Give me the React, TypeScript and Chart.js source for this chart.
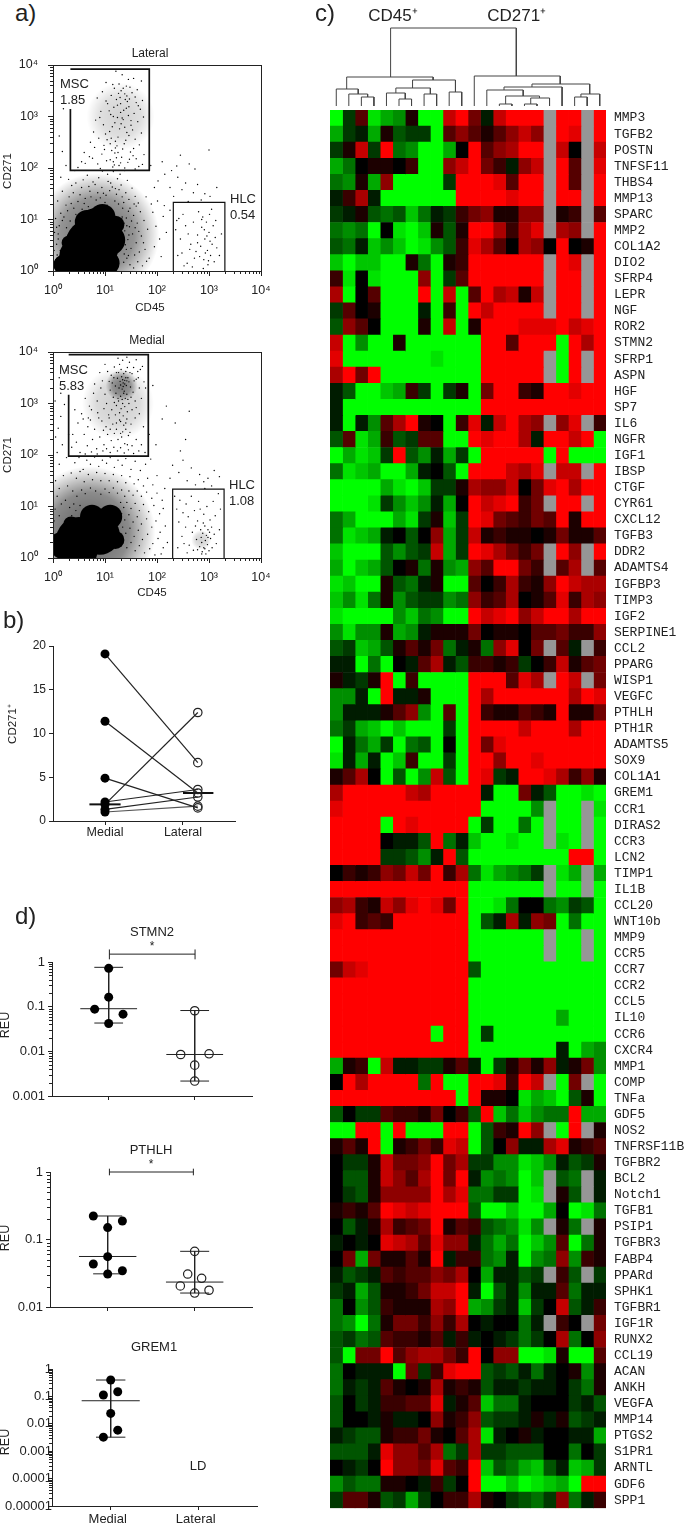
import React, { useEffect, useRef } from 'react';
import { Chart, registerables } from 'chart.js';
Chart.register(...registerables);

const INK = '#222222';
const SANS = '"Liberation Sans", Arial, sans-serif';
Chart.defaults.font.family = SANS;
Chart.defaults.color = INK;

/* ---------- c) heat map ---------- */
const N = null;
const genes = ['MMP3','TGFB2','POSTN','TNFSF11','THBS4','MMP13','SPARC','MMP2','COL1A2','DIO2','SFRP4','LEPR','NGF','ROR2','STMN2','SFRP1','ASPN','HGF','SP7','IL6','NGFR','IGF1','IBSP','CTGF','CYR61','CXCL12','TGFB3','DDR2','ADAMTS4','IGFBP3','TIMP3','IGF2','SERPINE1','CCL2','PPARG','WISP1','VEGFC','PTHLH','PTH1R','ADAMTS5','SOX9','COL1A1','GREM1','CCR1','DIRAS2','CCR3','LCN2','TIMP1','IL1B','CCL20','WNT10b','MMP9','CCR5','CCR7','CCR2','CCL5','IL10','CCR6','CXCR4','MMP1','COMP','TNFa','GDF5','NOS2','TNFRSF11B','TGFBR2','BCL2','Notch1','TGFB1','PSIP1','TGFBR3','FABP4','PPARd','SPHK1','TGFBR1','IGF1R','RUNX2','CCL19','ACAN','ANKH','VEGFA','MMP14','PTGS2','S1PR1','ARNTL','GDF6','SPP1'];
const heatValues = [
[-9,-2,3,-8,-6,-5,1,-9,-9,7,9,4,-1,7,9,9,9,N,9,9,N,9],
[-6,-2,-1,-6,1,-3,-2,-2,-9,3,5,3,1,3,5,7,5,N,9,8,N,9],
[-2,1,7,-2,9,-4,-5,-9,-9,-6,0,9,3,5,6,9,9,N,7,0,N,7],
[-6,-4,0,1,1,0,2,-9,-9,5,7,9,4,2,-1,5,7,N,9,3,N,8],
[-4,-5,1,-6,5,-9,-9,-9,-9,-2,9,9,9,8,3,9,9,N,9,3,N,9],
[-1,2,6,-1,-9,-9,-9,-9,-9,-9,9,9,9,9,8,9,9,N,9,9,N,9],
[-2,-1,1,-3,-4,-3,-7,-4,-1,-2,2,4,5,1,1,5,5,N,1,2,N,3],
[-4,-5,-4,-9,0,-8,-9,-7,1,-3,1,9,9,6,2,6,8,N,6,5,N,9],
[-3,-4,-1,-7,-5,-7,-9,-8,-5,-3,2,8,6,3,0,6,5,0,9,0,1,9],
[-7,-9,-7,-7,-9,-9,1,-4,-9,1,2,9,9,9,9,9,9,N,9,8,N,9],
[2,-8,0,-8,-9,-9,-9,5,-9,-2,3,9,9,9,9,9,9,N,9,9,N,9],
[6,-9,0,3,-9,-9,-9,9,-9,7,-9,3,9,6,7,1,7,N,9,9,N,9],
[-2,3,0,1,-9,-9,-9,-1,-9,2,-9,9,7,9,9,9,9,N,9,9,N,9],
[-3,5,3,0,-9,-9,-9,1,-9,7,-9,1,9,9,9,8,8,8,9,7,8,9],
[7,-9,-5,-9,-9,1,-9,-9,-9,-9,-9,-9,9,9,3,9,9,9,-9,9,6,9],
[8,-9,-9,-9,-9,-9,-9,-9,-8,-9,-9,-9,9,9,9,9,9,N,-9,9,N,9],
[6,9,4,9,-9,-9,-9,-9,-9,-9,-9,-9,9,9,9,9,9,N,-9,9,N,9],
[-1,-3,-9,-9,-7,-6,2,-2,-9,-2,1,-9,4,9,9,2,1,9,9,8,9,9],
[-1,-9,-9,-9,-9,-9,-9,-9,-9,-9,-9,-9,9,9,9,9,9,9,9,9,9,9],
[-1,-9,-1,-5,3,6,9,1,0,-9,2,8,-1,7,9,6,5,N,5,8,N,2],
[-3,3,-8,-6,2,-3,-2,3,3,-9,-9,9,8,9,9,6,-1,9,9,7,9,-9],
[-9,-6,-8,-7,-2,9,-3,-5,-1,-6,-2,-9,9,9,9,9,9,-9,9,-9,-9,-9],
[-4,-8,-7,-6,-9,-9,-6,-1,0,-3,-9,9,9,9,7,6,8,N,7,7,N,9],
[-9,-9,-9,-9,-6,-8,-9,-7,-2,-2,1,6,5,5,7,0,4,8,9,6,9,9],
[-9,-9,-9,-8,-2,-5,-7,-5,-1,-6,0,9,7,8,9,2,4,N,9,9,N,9],
[-4,-6,-9,-9,-9,-6,-8,-2,1,-7,-2,9,8,4,3,2,4,3,9,1,9,9],
[-4,-8,-7,-6,-1,0,-3,0,5,-6,-2,7,1,2,1,1,0,1,4,1,1,3],
[-7,-9,-9,-9,-3,-5,-3,-2,7,-6,-2,9,8,6,4,2,4,N,9,5,N,9],
[-6,-9,-7,-6,-3,0,1,-4,1,-5,-6,5,3,9,9,4,2,N,3,6,N,3],
[-8,-7,-9,-9,1,-3,-4,-1,1,-9,-9,3,0,2,6,2,1,5,9,7,6,6],
[-7,-5,-8,-4,1,-5,-3,-2,-2,-5,-4,5,2,3,6,0,1,3,8,2,6,5],
[-8,-9,-9,-9,-9,-5,-7,-4,-5,-9,-9,9,7,8,9,5,7,9,9,6,9,9],
[-5,-8,-5,-5,1,-6,-5,-1,1,1,1,4,0,1,1,0,3,3,4,2,2,5],
[-3,-2,-7,-6,-3,1,3,1,4,-4,-1,1,-4,5,8,0,4,N,3,-1,N,2],
[-1,-1,-9,-4,-9,0,-1,3,6,-1,-3,2,2,1,2,-2,0,2,7,1,3,4],
[1,-1,-2,1,9,-9,2,-9,-9,-9,-9,9,9,9,3,8,6,N,9,7,N,4],
[-5,-5,-1,-9,9,-1,-1,1,-9,-9,-9,9,6,9,9,9,9,9,9,6,9,8],
[-5,-1,-1,-1,1,3,5,-5,-9,3,-9,9,2,1,1,3,2,1,9,1,1,4],
[-4,-2,-6,-7,-9,-7,-9,-9,-9,-2,-9,9,9,9,9,7,9,9,9,6,9,9],
[-9,-1,-4,-6,-2,-9,-4,-3,-9,0,-9,9,4,8,9,9,9,9,9,9,9,9],
[-8,-1,-6,-1,-9,-7,2,-9,-9,-2,-9,9,9,5,9,9,8,9,9,9,9,9],
[1,3,6,0,-9,-3,-9,-5,7,-3,-9,9,8,-2,-1,9,9,8,6,2,5,1],
[6,9,9,9,9,9,7,6,9,9,9,9,-1,-9,-9,4,-1,-3,-9,-9,-8,-9],
[8,9,9,9,9,9,9,9,9,9,9,9,-9,-9,-9,-9,-5,N,-9,-9,N,-8],
[9,9,9,9,-9,9,8,9,9,9,9,-9,-2,-9,-9,-4,-9,N,-9,-9,N,-9],
[9,9,9,9,0,-1,-1,-3,9,-4,-1,-7,-9,-9,-8,-9,-9,N,-8,-9,N,-9],
[9,9,9,9,-2,-2,-3,-5,-1,9,-3,-9,-9,-9,-9,-9,-9,-9,-9,9,9,-9],
[0,2,1,2,5,4,7,4,9,2,6,-4,-8,-6,-5,-4,-2,N,-8,-6,N,-6],
[9,9,9,9,9,9,9,9,9,9,9,-9,-9,-9,-9,-9,-9,N,-9,-9,N,-9],
[5,6,2,1,7,5,8,9,8,4,9,-9,-9,-8,-4,0,0,-4,-5,-2,-3,-9],
[8,9,2,3,2,9,9,9,9,9,9,-9,-3,-1,6,-1,5,4,-9,-4,-9,-9],
[9,9,9,9,9,9,9,9,9,9,9,-9,-9,-9,-9,-9,-9,N,-9,-9,N,-9],
[9,9,9,9,9,9,9,9,9,9,9,-9,-9,-9,-9,-9,-9,N,-9,-9,N,-9],
[4,7,8,9,9,9,9,9,9,9,9,-3,-9,-9,-9,-9,-9,-9,-9,-9,-9,-9],
[9,9,9,9,9,9,9,9,9,9,9,-9,-9,-9,-9,-9,-9,-9,-9,-9,-9,-9],
[9,9,9,9,9,9,9,9,9,9,9,-9,-9,-9,-9,-9,-9,-9,-9,-9,-9,-9],
[9,9,9,9,9,9,9,9,9,9,9,-9,-9,-9,-9,-9,-9,-9,-6,-9,-9,-9],
[9,9,9,9,9,9,9,9,-9,9,9,-9,-2,-9,-9,-9,-9,-9,-9,-9,-9,-9],
[9,9,9,9,9,9,9,9,9,9,9,-9,-9,-9,-9,-9,-9,-9,-1,-9,-6,-5],
[-6,1,2,-9,7,-1,-1,-2,-2,1,3,-1,-9,-2,1,4,1,5,-1,1,4,-5],
[0,9,6,9,9,9,9,-4,9,-9,-9,9,9,8,2,9,7,N,-9,4,N,-9],
[9,9,9,9,9,9,9,9,9,9,-9,9,1,1,0,-8,-6,-7,-9,-3,1,-9],
[-3,0,-2,-2,3,2,2,1,4,0,2,-3,9,-7,-4,-7,-5,-4,-4,9,-6,-6],
[-9,-9,9,9,-9,9,-9,-9,-9,9,9,-9,-3,2,1,9,5,N,-9,9,N,1],
[1,3,1,9,-9,1,2,4,2,8,7,-9,-3,0,5,-1,-1,6,8,1,2,3],
[0,-2,-2,1,7,4,4,5,9,4,6,-2,-2,-5,-5,-8,-7,-5,-1,-3,-2,1],
[0,-3,-3,1,7,5,3,6,9,4,9,-1,-5,-4,-5,-9,-7,N,-3,-4,N,-1],
[0,-2,-3,1,5,5,5,5,9,6,8,-4,-4,-2,-2,-9,-8,N,1,-3,N,-1],
[1,2,1,3,9,8,7,8,9,9,9,-3,-9,-9,-7,-9,-9,-6,0,-9,-8,-4],
[0,-3,-1,1,6,2,3,4,9,1,3,2,-3,-4,-5,-8,-5,N,1,-4,N,1],
[-1,0,-1,0,8,7,6,3,8,5,5,-1,-4,-6,-4,-9,-7,-5,3,-9,-4,1],
[0,4,-6,4,1,1,3,1,9,-1,2,2,-4,-5,-1,-9,-5,-4,5,-5,2,1],
[-1,-3,-2,-1,3,2,3,3,5,4,6,0,-6,-1,-1,-3,-2,N,2,-3,N,-2],
[-2,-1,-6,-3,1,1,2,4,7,7,9,-1,-9,-3,-1,-5,-1,-1,3,-4,-1,-1],
[-4,0,-5,-3,2,1,1,1,6,5,9,-6,-5,-2,-1,-7,-2,0,7,-3,-1,2],
[-4,-5,-9,-4,1,4,4,2,5,2,6,0,-1,0,0,-4,-1,N,2,0,N,4],
[-3,-2,-4,-3,3,2,2,1,3,-1,2,-1,0,-1,-2,-4,-2,0,6,-4,0,5],
[-3,-9,4,4,9,3,5,6,6,4,2,9,0,5,5,-9,-9,-8,1,-9,-9,3],
[-4,0,-1,-1,-1,-9,4,-2,2,8,9,9,-3,-2,-3,-1,-4,-1,0,1,-5,1],
[-4,-1,-2,-1,3,1,0,1,6,1,2,1,-3,-1,-1,-2,-1,-1,0,-2,-4,1],
[-3,0,-2,-1,2,2,3,3,8,-1,1,3,-7,-4,-4,-1,0,0,0,-2,-1,-3],
[-3,0,0,-1,1,-1,-1,0,5,1,2,5,-3,-2,-2,-1,1,-1,1,-3,-2,-1],
[-1,-2,-3,-3,1,2,2,4,1,0,3,6,-8,-1,0,1,-1,0,0,-1,-1,-6],
[-3,-3,-3,-1,8,5,5,3,6,-4,-2,6,-2,-2,-3,-3,-3,0,0,-4,0,-2],
[0,-1,-2,0,9,5,5,4,8,3,2,9,-7,-3,-4,-6,-7,-3,-1,-7,-6,-2],
[-5,-3,-4,-4,1,1,0,-1,2,-2,0,9,-9,-9,-7,-9,-8,-7,-6,-9,9,9],
[-2,3,3,1,-3,-2,-6,-2,0,2,2,6,1,0,-2,-3,-4,-2,5,-4,-1,2],
];
// dendrogram links: x left, x right, height, left child height, right child height
const dendroLinks = [
[4.83,14.85,78,29,30],[1.33,8.22,29,17,26],[0.5,2.25,17,0,12],[1.5,3,12,0,9],[2.5,3.5,9,0,0],
[6.58,10,26,18,14],[9.5,10.5,14,0,0],[5.25,8,18,13,12],[4.5,6,13,0,7],[5.5,6.5,7,0,0],[7.5,8.5,12,0,0],
[11.5,18.35,30,0,22],[16.1,20.7,22,19,12],[13.87,18.5,19,16,0],[12.5,15.4,16,0,10],[14,16.7,10,2,8],
[13.5,14.5,2,0,0],[16,17.5,8,2,0],[15.5,16.5,2,0,0],[20,21.5,12,9,0],[19.5,20.5,9,0,0],
];

/* ---------- a) flow cytometry, log10 pairs ---------- */
const flowTickLabels = ['10⁰','10¹','10²','10³','10⁴'];
// [log x, log y, dot radius] for the solid black mass
const lateralCore = [[.75,.5,27],[.85,.8,22],[.95,1.05,13],[.45,.3,17],[1.1,.6,15],[1.2,.9,9],[.65,.95,12],[.2,.12,10],[1.05,.15,12],[.3,.55,7]];
const medialCore = [[.5,.35,23],[.2,.25,14],[.9,.45,20],[1.1,.8,12],[.75,.8,12],[.6,.1,13],[.05,.35,6],[1.2,.35,9],[.35,.65,8]];
// [log x, log y, radius, opacity] for the dense speckled cloud under the dots
const lateralHaze = [[.85,.7,62,.6],[1.3,3,34,.18]];
const medialHaze = [[.7,.5,66,.65],[1.32,3.35,16,.45],[1.25,3,36,.2],[2.85,.35,10,.18]];
const lateralMsc = [1.21,3.88,1.45,3.72,1.02,3.66,1.33,3.81,1.41,3.59,1.55,3.74,1.62,3.52,1.7,3.69,1.18,3.55,.95,3.48,1.27,3.63,1.38,3.44,1.48,3.57,1.58,3.38,1.72,3.31,1.12,3.41,1.22,3.33,1.31,3.5,1.43,3.29,1.52,3.46,1.64,3.21,1.05,3.25,.85,3.36,1.17,3.18,1.29,3.37,1.36,3.12,1.47,3.34,1.56,3.06,1.68,3.14,.92,3.1,1.02,3.3,1.11,3.04,1.24,3.22,1.33,2.97,1.41,3.16,1.5,2.92,1.6,3.27,1.74,2.99,.82,2.93,.97,2.84,1.08,3.11,1.19,2.88,1.3,3.08,1.38,2.79,1.45,3.02,1.53,2.74,1.63,2.9,.78,2.7,.9,2.98,1.01,2.66,1.14,2.8,1.25,2.6,1.35,2.94,1.42,2.69,1.5,2.83,1.58,2.56,1.7,2.68,.72,2.5,.88,2.58,.98,2.44,1.09,2.71,1.2,2.52,1.28,2.76,1.37,2.47,1.46,2.63,1.55,2.38,1.66,2.45,.6,2.3,.8,2.4,.94,2.27,1.04,2.55,1.13,2.34,1.23,2.43,1.32,2.21,1.4,2.54,1.49,2.31,1.6,2.18,1.75,2.26,.55,2.12,.7,2.22,.86,2.08,.99,2.36,1.1,2.16,1.19,2.29,1.27,2.05,1.34,2.37,1.44,2.11,1.54,2.24,1.65,2.03,.48,2.01,.62,2.09,.76,2.19,.91,1.99,1.03,2.14,1.15,2.02,1.22,2.2,1.3,2.1,1.38,2,1.47,2.17,1.58,1.98,1.72,2.07,1.26,3.45,1.35,3.55,1.15,3.62,1.42,3.4,1.3,3.25,1.39,3.33,1.46,3.19,1.24,2.98,1.16,3,1.31,2.86,1.12,2.58,1.2,2.39,1.16,2.12,1.18,2.06,1.25,2.3,1.1,2.47];
const lateralHalo = [.62,1.41,.71,1.55,.83,1.38,.94,1.62,1.02,1.47,1.11,1.71,1.19,1.36,1.27,1.58,1.33,1.44,.55,1.62,.48,1.35,.39,1.52,.77,1.73,.88,1.81,1.05,1.88,1.16,1.93,1.24,1.79,1.31,1.67,1.4,1.52,1.46,1.39,1.52,1.61,.66,1.86,.58,1.77,.95,1.94,.73,1.44,.86,1.52,1,1.33,1.09,1.56,1.22,1.49,1.36,1.33,1.43,1.76,1.58,1.45,1.64,1.32,.44,1.71,.31,1.44,.25,1.28,.18,1.55,.52,1.48,.69,1.64,.81,1.68,.91,1.42,1.14,1.63,1.29,1.88,1.38,1.95,1.06,1.74,1.2,1.6,.97,1.51,.6,1.31,.36,1.66,.15,1.12,.09,1.36,.05,1.02,.12,.88,.21,1.05,.28,1.17,.33,.97,.4,1.22,1.48,1.22,1.55,1.08,1.62,.93,1.41,1.03,1.47,.86,1.53,.72,1.6,.55,1.44,.61,1.5,.44,1.57,.31,1.63,.18,1.42,.25,1.48,.12,1.55,.06,1.68,1.15,1.75,.98,1.82,.81,1.7,.68,1.77,.42,1.66,.37,1.85,.25,1.72,.1,1.92,1.14,1.98,.87,2.05,.62,1.95,.47,2.12,1.06,2.18,.75,2.08,.28,1.89,1.3,1.79,1.44,2.01,1.36,2.14,1.27,2.25,1.18,1.6,1.26,1.38,.78,1.39,.51,1.37,.33,1.36,.17,1.58,.84,1.65,.77,1.74,.55,1.8,.19,1.51,.97,1.45,1.16,1.56,1.3,2.25,1.62,2.02,1.75,2.15,1.88,2.28,1.95,2.4,1.82,2.55,1.71,2.38,2.04,2.62,2.08,2.48,1.58,2.7,1.52,2.85,1.38,2.78,1.68,3.02,1.45,3.15,1.62,2.92,1.5,2.73,1.98,3,2.35,2.6,1.35,1.88,2.05,2.1,2.12,2.45,2.25,1.95,1.62,2.32,1.45,.18,2.32,.12,2.62,.2,3.15,.25,2.05,.15,1.82,.42,1.95,.3,1.78,.03,.75,.07,.52,.02,.4,.05,.22,.1,.62,.02,.1,.14,.4,.08,.31,.68,1.25,.56,1.2,.44,1.1,.35,1.31,.26,.84,.18,.98,.07,.85,.1,.72,1.04,1.28,1.26,1.3,1.34,1.22,1.33,1.05,1.37,.93,1.42,.88,1.46,.7,1.35,.66,1.41,.42,1.45,.3];
const lateralHlc = [2.38,.98,2.42,1.02,2.36,.8,2.45,.62,2.5,1.1,2.55,.88,2.48,.35,2.6,.72,2.58,.15,2.65,.52,2.7,.95,2.75,.38,2.68,.08,2.78,.7,2.8,1.15,2.84,.48,2.86,.85,2.9,.22,2.88,1.05,2.92,.62,2.95,.95,2.97,.4,2.98,.12,3,.75,3.03,.3,3.05,1.2,3.02,.58,3.08,.88,3.1,.18,3.12,.65,3.15,.45,2.93,.35,2.82,.28,2.96,.68,3.06,.52,2.72,.25,2.89,.05,2.99,.2,3.13,.98,2.63,.42,2.78,.55,2.91,.8,2.86,1,3.01,1.1,2.4,.3,2.52,.1,3.2,.3,3.24,.72];
const medialMsc = [1.35,3.4,1.38,3.45,1.32,3.52,1.41,3.35,1.29,3.43,1.44,3.5,1.36,3.58,1.27,3.3,1.4,3.62,1.33,3.28,1.46,3.42,1.31,3.66,1.24,3.49,1.37,3.24,1.49,3.32,1.22,3.6,1.43,3.7,1.28,3.76,1.52,3.58,1.18,3.71,1.47,3.8,1.12,3.55,1.55,3.7,1.34,3.84,1.6,3.47,1.08,3.43,1.63,3.62,1.21,3.2,1.3,3.14,1.39,3.1,1.26,3.05,1.34,3,1.42,3.18,1.5,3.12,1.16,3.12,1.22,2.96,1.31,2.9,1.38,2.94,1.46,3,1.54,3.22,1.58,3.05,1.66,3.3,1.1,3.26,1,3.18,.92,3.3,.85,3.05,1.03,3,1.13,2.88,1.2,2.78,1.28,2.82,1.35,2.76,1.43,2.84,1.52,2.88,1.6,2.92,1.7,3.1,1.75,3.42,1.72,3.72,1.6,3.85,1.42,3.9,1.25,3.88,1,3.76,.9,3.6,.78,3.2,.7,2.95,.62,3.1,.55,2.8,.48,2.62,.42,2.88,.38,2.4,.36,2.15,.45,2.25,.52,2.05,.6,2.4,.66,2.18,.72,2.68,.8,2.5,.86,2.82,.94,2.66,1.02,2.55,1.08,2.72,1.15,2.6,1.22,2.5,1.3,2.65,1.36,2.58,1.42,2.7,1.5,2.6,1.58,2.72,1.66,2.8,1.74,2.55,.76,2.3,.84,2.12,.9,2.35,.98,2.2,1.05,2.4,1.12,2.28,1.18,2.42,1.25,2.3,1.32,2.35,1.38,2.22,1.45,2.38,1.52,2.18,1.6,2.3,1.7,2.2,1.77,2.05,.62,2.02,.74,2.06,.85,2.02,.96,2.08,1.03,2.12,1.1,2.05,1.17,2.15,1.24,2.08,1.3,2.14,1.37,2.04,1.45,2.1,1.55,2.03,1.65,2.08,.98,2.9,1.07,2.78,1.18,3.02,1.28,2.68,1.4,2.5,1.48,2.44,1.34,2.45,1.22,2.62,1.1,2.5,.97,2.48,.88,2.72,.67,2.55,.58,2.7,1.25,3.1,1.36,3.2,1.44,3.08,1.33,3.08,1.2,3.34,1.14,3.4,1.26,3.6,1.17,3.5,1.05,3.62,.95,3.44,1.48,3.6,1.56,3.44,1.64,3.5,1.68,3.66,1.78,3.3,.8,3.38,.68,2.72,.74,2.88,1.4,2.62,1.3,2.42,1.43,2.2,1.35,3.33,1.38,3.38,1.34,3.46,1.42,3.44,1.4,3.5,1.3,3.36];
const medialHalo = [.05,2.35,.08,2.05,.12,1.82,.18,2.2,.26,1.95,.3,2.4,.15,2.75,.1,2.52,.42,1.85,.5,1.95,.58,1.72,.65,1.9,.72,1.82,.8,1.96,.88,1.78,.95,1.9,1.03,1.84,1.1,1.95,1.18,1.76,1.25,1.9,1.33,1.8,1.4,1.93,1.5,1.72,1.58,1.88,1.68,1.7,1.78,1.82,1.88,1.92,.35,1.65,.45,1.55,.52,1.68,.6,1.48,.68,1.62,.76,1.52,.84,1.66,.92,1.5,1,1.64,1.08,1.5,1.16,1.62,1.24,1.48,1.32,1.6,1.4,1.46,1.48,1.58,1.56,1.44,1.64,1.52,1.74,1.4,1.82,1.55,1.92,1.42,2,1.6,.2,1.6,.28,1.4,.12,1.35,.05,1.5,.38,1.3,.46,1.2,.55,1.32,.62,1.25,.72,1.36,.82,1.3,.92,1.24,1,1.34,1.08,1.27,1.16,1.36,1.24,1.26,1.32,1.32,1.38,1.2,1.46,1.3,1.54,1.22,1.62,1.3,1.7,1.2,1.8,1.28,1.9,1.16,2,1.26,2.1,1.12,2.15,1.35,.08,1.2,.16,1.05,.24,1.12,.32,.98,.4,1.05,.04,.95,.12,.82,.02,.72,.36,.82,.44,.92,.52,1.02,1.3,1.08,1.36,.98,1.42,1.08,1.5,.96,1.58,1.06,1.66,.92,1.74,1.04,1.84,.9,1.94,1.02,2.05,.86,2.12,.96,1.32,.86,1.38,.74,1.46,.84,1.54,.7,1.62,.8,1.7,.66,1.8,.76,1.9,.6,1.98,.72,2.06,.5,2.16,.62,1.34,.6,1.4,.48,1.48,.58,1.56,.42,1.64,.54,1.72,.36,1.82,.46,1.92,.28,2.02,.38,2.12,.2,1.3,.42,1.34,.28,1.42,.2,1.5,.3,1.58,.14,1.66,.24,1.76,.1,1.86,.18,1.96,.06,2.08,.08,2.2,.3,2.25,1.55,2.3,1.8,2.42,1.66,2.5,1.9,2.58,1.5,2.66,1.75,2.74,1.42,2.82,1.62,2.9,1.48,2.98,1.55,3.05,1.4,3.1,1.7,2.55,2.3,2.45,2.08,2.62,2.85,2.35,2.62,2.18,2.95,2.1,2.7,2.92,1.35,3.2,1.58,1.85,2.4,1.98,2.2,1.92,3.35,.12,3.5,.15,3.2,.04,3.05,.22,2.98,.26,3.65];
const medialHlc = [2.34,1.2,2.38,.95,2.44,1.12,2.42,.7,2.5,.88,2.48,.42,2.56,1.05,2.55,.6,2.62,.25,2.6,.8,2.66,1.2,2.68,.5,2.72,.92,2.7,.15,2.76,.36,2.78,.72,2.8,1.1,2.82,.22,2.84,.55,2.85,.4,2.86,.3,2.87,.12,2.88,.48,2.9,.85,2.9,.2,2.92,.62,2.93,.34,2.94,.08,2.95,.44,2.96,1,2.97,.26,2.98,.55,3,.14,3.02,.74,3.03,.38,3.05,.6,3.06,.2,3.08,1.1,3.1,.46,3.12,.82,3.14,.28,3.18,1.25,3.22,.95,3.2,.55,2.4,.2,2.52,.28,2.58,.1,2.74,.62,2.83,.95,2.89,.68,2.78,.16,2.92,.18,2.86,.08,2.98,.4,3.01,.5];
const lateralGate = { msc: [[2.16,1400],[2.16,90],[71,90],[71,8350],[2.16,8350]], hlc: [[206,1],[206,21.6],[2020,21.6],[2020,1]] };
const medialGate = { msc: [[2,1480],[2,95.5],[68,95.5],[68,8900],[2,8900]], hlc: [[200,1],[200,21.8],[1950,21.8],[1950,1]] };

/* ---------- b) paired CD271+ values ---------- */
const groupLabels = ['Medial', 'Lateral'];
const pairedMedial = [19.1, 11.4, 4.9, 1.9, 2.17, 1.33, 1.03];
const pairedLateral = [6.67, 3.2, 1.5, 12.4, 3.6, 2.74, 1.7];
const pairedMedialMedian = 1.9;
const pairedLateralMedian = 3.2;

/* ---------- d) REU dot plots ---------- */
const stmn2X = { m: [1,1,.837,1.167,1], l: [2,1.837,2.167,2,2] };
const stmn2Y = { m: [.72,.163,.088,.068,.042], l: [.081,.0085,.0088,.0049,.00216] };
const stmn2Stats = { m: [.09,.76,.043], l: [.0085,.082,.00216] };
const pthlhX = { m: [.835,1.169,1,1,.835,1.169,1], l: [2,1.92,2.08,1.835,2.165,2] };
const pthlhY = { m: [.223,.188,.15,.0557,.0434,.0345,.0308], l: [.0668,.0308,.0266,.0205,.0177,.0161] };
const pthlhStats = { m: [.056,.223,.031], l: [.0234,.0668,.0161] };
const grem1X = { m: [1,1.08,.917,1,1.08,.917], l: [] as number[] };
const grem1Y = { m: [.396,.148,.112,.0239,.00586,.00325], l: [] as number[] };
const grem1Stats = { m: [.0694,.396,.00325], l: null as number[] | null };

/* ---------- helpers ---------- */
type Note = { t: string; x: number; y: number; size: number; align?: CanvasTextAlign; rot?: number };
type Box = { x0: number; y0: number; x1: number; y1: number; ml: number; mt: number; mr: number; mb: number };

const isDecade = (v: number) => Math.abs(Math.log10(v) - Math.round(Math.log10(v))) < 1e-6;
function logTickValues(minExp: number, maxExp: number) {
  const out: number[] = [];
  for (let e = minExp; e < maxExp; e++) for (let m = 1; m < 10; m++) out.push(+(m * 10 ** e).toPrecision(2));
  out.push(+(10 ** maxExp).toPrecision(2));
  return out;
}
const pairs = (flat: number[]) => {
  const out: { x: number; y: number }[] = [];
  for (let i = 0; i < flat.length; i += 2) out.push({ x: 10 ** flat[i], y: 10 ** flat[i + 1] });
  return out;
};
const lineSet = (pts: number[][], width = 1, color = INK) => ({
  data: pts.map(([x, y]) => ({ x, y })),
  showLine: true, pointRadius: 0, borderColor: color, borderWidth: width, clip: false, tension: 0,
});

const notesPlugin = (notes: Note[], box: Box) => ({
  id: 'notes',
  afterDraw(c: any) {
    const g = c.ctx;
    notes.forEach(n => {
      g.save();
      g.translate(n.x - (box.x0 - box.ml), n.y - (box.y0 - box.mt));
      if (n.rot) g.rotate(n.rot);
      g.fillStyle = INK;
      g.textBaseline = 'middle';
      g.textAlign = n.align || 'center';
      g.font = `${n.size}px ${SANS}`;
      g.fillText(n.t, 0, 0);
      g.restore();
    });
  },
});
const framePlugin = {
  id: 'frame',
  afterDraw(c: any) {
    const a = c.chartArea, g = c.ctx;
    g.save();
    g.strokeStyle = INK;
    g.lineWidth = 1;
    g.strokeRect(a.left + .5, a.top + .5, a.right - a.left, a.bottom - a.top);
    g.restore();
  },
};
const minorTicksPlugin = {
  id: 'minorTicks',
  afterDraw(c: any) {
    const g = c.ctx;
    g.save();
    g.strokeStyle = INK;
    g.lineWidth = 1;
    Object.values(c.scales).forEach((s: any) => {
      if (s.type !== 'logarithmic') return;
      s.ticks.forEach((t: any) => {
        if (isDecade(t.value)) return;
        const p = Math.round(s.getPixelForValue(t.value)) + .5;
        g.beginPath();
        if (s.axis === 'x') { g.moveTo(p, s.top); g.lineTo(p, s.top + 3); }
        else { g.moveTo(s.right, p); g.lineTo(s.right - 3, p); }
        g.stroke();
      });
    });
    g.restore();
  },
};

const baseOptions = (b: Box, scales: any) => ({
  animation: false as const,
  responsive: false,
  maintainAspectRatio: false,
  layout: { autoPadding: false, padding: { top: b.mt, right: b.mr, bottom: 0, left: 0 } },
  plugins: { legend: { display: false }, tooltip: { enabled: false } },
  events: [],
  scales,
});
const logAxis = (minExp: number, maxExp: number, size: number, font: number, pad: number, label: (v: number) => string, isX: boolean) => ({
  type: 'logarithmic',
  min: 10 ** minExp,
  max: 10 ** maxExp,
  afterBuildTicks: (s: any) => { s.ticks = logTickValues(minExp, maxExp).map(value => ({ value })); },
  afterFit: (s: any) => { if (isX) s.height = size; else s.width = size; },
  border: { color: INK },
  grid: {
    drawOnChartArea: false,
    tickLength: 5,
    tickColor: (c: any) => (c.tick && isDecade(c.tick.value) ? INK : 'rgba(0,0,0,0)'),
  },
  ticks: { autoSkip: false, maxRotation: 0, padding: pad, color: INK, font: { size: font }, callback: (v: number) => (isDecade(v) ? label(v) : '') },
});

/* ---------- chart specs ---------- */
function flowSpec(box: Box, core: number[][], haze: number[][], msc: number[], halo: number[], hlc: number[], gate: typeof lateralGate, notes: Note[]) {
  const dots = (flat: number[]) => ({ data: pairs(flat), pointRadius: .7, pointBorderWidth: 0, pointBackgroundColor: '#000', showLine: false });
  const fl = (v: number) => flowTickLabels[Math.round(Math.log10(v))];
  const hazeFill = (ctx: any) => {
    const h = haze[ctx.dataIndex];
    const sx = ctx.chart.scales.x, sy = ctx.chart.scales.y;
    if (!h || !sx || !sy) return 'rgba(0,0,0,0)';
    const px = sx.getPixelForValue(10 ** h[0]);
    const py = sy.getPixelForValue(10 ** h[1]);
    if (!Number.isFinite(px) || !Number.isFinite(py)) return 'rgba(0,0,0,0)';
    const g = ctx.chart.ctx.createRadialGradient(px, py, 0, px, py, h[2]);
    g.addColorStop(0, `rgba(0,0,0,${h[3]})`);
    g.addColorStop(.6, `rgba(0,0,0,${h[3] * .7})`);
    g.addColorStop(1, 'rgba(0,0,0,0)');
    return g;
  };
  return {
    box,
    config: {
      type: 'scatter',
      data: {
        datasets: [
          lineSet(gate.msc, 1.7, '#111'),
          lineSet(gate.hlc, 1.2, '#111'),
          dots(msc), dots(halo), dots(hlc),
          {
            data: core.map(([a, b]) => ({ x: 10 ** a, y: 10 ** b })),
            pointRadius: core.map(c => c[2]), pointBorderWidth: 0, pointBackgroundColor: '#000', showLine: false,
          },
          {
            data: haze.map(([a, b]) => ({ x: 10 ** a, y: 10 ** b })),
            pointRadius: haze.map(c => c[2]), pointBorderWidth: 0,
            pointBackgroundColor: hazeFill, showLine: false,
          },
        ],
      },
      options: baseOptions(box, {
        x: logAxis(0, 4, box.mb, 12.5, 7, fl, true),
        y: logAxis(0, 4, box.ml, 12.5, 10, fl, false),
      }),
      plugins: [framePlugin, minorTicksPlugin, notesPlugin(notes, box)],
    },
  };
}

function pairedSpec() {
  const box: Box = { x0: 53, y0: 646, x1: 235, y1: 821, ml: 53, mt: 14, mr: 8, mb: 20 };
  const lateralX = 2.19;
  return {
    box,
    config: {
      type: 'scatter',
      data: {
        datasets: [
          { data: pairedMedial.map(y => ({ x: 1, y })), pointRadius: 4.5, pointBorderWidth: 0, pointBackgroundColor: '#000', showLine: false, clip: false },
          { data: pairedLateral.map(y => ({ x: lateralX, y })), pointRadius: 4.2, pointBorderWidth: 1.2, pointBorderColor: INK, pointBackgroundColor: 'rgba(0,0,0,0)', showLine: false, clip: false },
          lineSet([[.8, pairedMedialMedian], [1.2, pairedMedialMedian]], 2, '#111'),
          lineSet([[2, pairedLateralMedian], [2.39, pairedLateralMedian]], 2, '#111'),
          ...pairedMedial.map((m, i) => lineSet([[1, m], [lateralX, pairedLateral[i]]], 1.2, i === 6 ? '#555' : INK)),
        ],
      },
      options: baseOptions(box, {
        x: {
          type: 'linear', min: .333, max: 2.667,
          afterBuildTicks: (s: any) => { s.ticks = [{ value: 1 }, { value: 2 }]; },
          afterFit: (s: any) => { s.height = box.mb; },
          border: { color: INK },
          grid: { drawOnChartArea: false, tickLength: 4, tickColor: INK },
          ticks: { padding: 0, maxRotation: 0, color: INK, font: { size: 12.5 }, callback: (v: number) => groupLabels[v - 1] },
        },
        y: {
          type: 'linear', min: 0, max: 20,
          afterFit: (s: any) => { s.width = box.ml; },
          border: { color: INK },
          grid: { drawOnChartArea: false, tickLength: 4, tickColor: INK },
          ticks: { stepSize: 5, padding: 3, color: INK, font: { size: 12 } },
        },
      }),
      plugins: [notesPlugin([{ t: 'CD271⁺', x: 13, y: 724, size: 11.5, rot: -Math.PI / 2 }], box)],
    },
  };
}

function dotSpec(box: Box, minExp: number, xr: [number, number], xs: any, ys: any, stats: any, notes: Note[], opts: { labels?: boolean; bracket?: number[]; tickPad: number }) {
  const sets: any[] = [
    { data: ys.m.map((y: number, i: number) => ({ x: xs.m[i], y })), pointRadius: 4.5, pointBorderWidth: 0, pointBackgroundColor: '#000', showLine: false, clip: false },
    { data: ys.l.map((y: number, i: number) => ({ x: xs.l[i], y })), pointRadius: 4.2, pointBorderWidth: 1.2, pointBorderColor: INK, pointBackgroundColor: 'rgba(0,0,0,0)', showLine: false, clip: false },
  ];
  const addStats = (x: number, s: number[]) => {
    sets.push(lineSet([[x - .33, s[0]], [x + .33, s[0]]]));
    sets.push(lineSet([[x, s[1]], [x, s[2]]]));
    sets.push(lineSet([[x - .167, s[1]], [x + .167, s[1]]]));
    sets.push(lineSet([[x - .167, s[2]], [x + .167, s[2]]]));
  };
  addStats(1, stats.m);
  if (stats.l) addStats(2, stats.l);
  if (opts.bracket) {
    const [x1, x2, y, lo, hi] = opts.bracket;
    sets.push(lineSet([[x1, y], [x2, y]]));
    sets.push(lineSet([[x1, lo], [x1, hi]]));
    sets.push(lineSet([[x2, lo], [x2, hi]]));
  }
  return {
    box,
    config: {
      type: 'scatter',
      data: { datasets: sets },
      options: baseOptions(box, {
        x: {
          type: 'linear', min: xr[0], max: xr[1],
          afterBuildTicks: (s: any) => { s.ticks = [{ value: 1 }, { value: 2 }]; },
          afterFit: (s: any) => { s.height = box.mb; },
          border: { color: INK },
          grid: { drawOnChartArea: false, tickLength: 4, tickColor: INK },
          ticks: { padding: 2, labelOffset: opts.labels ? -3 : 0, maxRotation: 0, color: INK, font: { size: 13 }, callback: (v: number) => (opts.labels ? groupLabels[v - 1] : '') },
        },
        y: (() => {
          const a: any = logAxis(minExp, 0, box.ml, 13, opts.tickPad, (v: number) => String(+v.toPrecision(1)), false);
          a.grid.tickLength = 4;
          return a;
        })(),
      }),
      plugins: [minorTicksPlugin, notesPlugin(notes, box)],
    },
  };
}

function dendroSpec() {
  const box: Box = { x0: 330, y0: 27, x1: 606, y1: 106, ml: 0, mt: 27, mr: 0, mb: 0 };
  return {
    box,
    config: {
      type: 'scatter',
      data: {
        datasets: dendroLinks.map(([xl, xr, h, hl, hr]) => lineSet([[xl, hl], [xl, h], [xr, h], [xr, hr]], 1, '#444')),
      },
      options: baseOptions(box, {
        x: { type: 'linear', min: 0, max: 22, display: false },
        y: { type: 'linear', min: 0, max: 79, display: false },
      }),
      plugins: [notesPlugin([
        { t: 'CD45⁺', x: 393, y: 16, size: 17 },
        { t: 'CD271⁺', x: 516.7, y: 16, size: 17 },
      ], box)],
    },
  };
}

function heatSpec() {
  const box: Box = { x0: 330, y0: 110, x1: 606, y1: 1509, ml: 0, mt: 20, mr: 79, mb: 15 };
  const cellColor = (v: number | null) =>
    v === null ? '#969696' : v >= 0 ? `rgb(${Math.round((v / 9) * 255)},0,0)` : `rgb(0,${Math.round((-v / 9) * 255)},0)`;
  const columns = heatValues[0].map((_, col) => ({
    data: heatValues.map(() => 1),
    backgroundColor: heatValues.map(row => cellColor(row[col])),
    borderWidth: 0,
    barPercentage: 1,
    categoryPercentage: 1,
  }));
  const opts: any = baseOptions(box, {
    x: { type: 'linear', stacked: true, min: 0, max: 22, display: false },
    y: {
      type: 'category', stacked: true, position: 'right',
      afterFit: (s: any) => { s.width = box.mr; },
      border: { display: false },
      grid: { display: false, drawTicks: false },
      ticks: { autoSkip: false, padding: 8, color: '#222', font: { family: '"Liberation Mono", monospace', size: 13 } },
    },
  });
  opts.indexAxis = 'y';
  opts.layout.padding = { top: box.mt, right: 0, bottom: box.mb, left: 0 };
  return { box, config: { type: 'bar', data: { labels: genes, datasets: columns }, options: opts } };
}

const specs = [
  flowSpec({ x0: 53, y0: 65, x1: 261, y1: 271, ml: 53, mt: 20, mr: 24, mb: 45 }, lateralCore, lateralHaze, lateralMsc, lateralHalo, lateralHlc, lateralGate, [
    { t: 'Lateral', x: 150, y: 54, size: 12 },
    { t: 'CD45', x: 150, y: 308, size: 11.5 },
    { t: 'CD271', x: 8, y: 171, size: 11.5, rot: -Math.PI / 2 },
    { t: 'MSC', x: 60, y: 84, size: 13, align: 'left' },
    { t: '1.85', x: 60, y: 100, size: 13, align: 'left' },
    { t: 'HLC', x: 230, y: 199, size: 13, align: 'left' },
    { t: '0.54', x: 230, y: 215, size: 13, align: 'left' },
  ]),
  flowSpec({ x0: 53, y0: 352, x1: 261, y1: 558, ml: 53, mt: 20, mr: 24, mb: 42 }, medialCore, medialHaze, medialMsc, medialHalo, medialHlc, medialGate, [
    { t: 'Medial', x: 147, y: 341, size: 12 },
    { t: 'CD45', x: 152, y: 593, size: 11.5 },
    { t: 'CD271', x: 8, y: 455, size: 11.5, rot: -Math.PI / 2 },
    { t: 'MSC', x: 59, y: 370, size: 13, align: 'left' },
    { t: '5.83', x: 59, y: 386, size: 13, align: 'left' },
    { t: 'HLC', x: 229, y: 485, size: 13, align: 'left' },
    { t: '1.08', x: 229, y: 501, size: 13, align: 'left' },
  ]),
  pairedSpec(),
  dotSpec({ x0: 52, y0: 962, x1: 252, y1: 1096, ml: 52, mt: 40, mr: 10, mb: 14 }, -3, [.341, 2.666], stmn2X, stmn2Y, stmn2Stats, [
    { t: 'STMN2', x: 152, y: 932, size: 13 },
    { t: '*', x: 152, y: 947, size: 12 },
    { t: 'REU', x: 6, y: 1025, size: 12.5, rot: -Math.PI / 2 },
  ], { tickPad: 3, bracket: [1.008, 2.004, 1.5, 1.147, 1.91] }),
  dotSpec({ x0: 50, y0: 1172, x1: 252, y1: 1307, ml: 50, mt: 30, mr: 10, mb: 14 }, -2, [.337, 2.659], pthlhX, pthlhY, pthlhStats, [
    { t: 'PTHLH', x: 151, y: 1150, size: 13 },
    { t: '*', x: 151, y: 1165, size: 12 },
    { t: 'REU', x: 6, y: 1238, size: 12.5, rot: -Math.PI / 2 },
  ], { tickPad: 3, bracket: [1.02, 1.985, 1, .893, 1.12] }),
  dotSpec({ x0: 52, y0: 1369, x1: 257, y1: 1506, ml: 52, mt: 30, mr: 10, mb: 18 }, -5, [.333, 2.6625], grem1X, grem1Y, grem1Stats, [
    { t: 'GREM1', x: 154, y: 1347, size: 13 },
    { t: 'LD', x: 198, y: 1466, size: 13 },
    { t: 'REU', x: 6, y: 1442, size: 12.5, rot: -Math.PI / 2 },
  ], { tickPad: -4, labels: true }),
  dendroSpec(),
  heatSpec(),
];

const panelLetters = [
  { t: 'a)', x: 15, y: -1 },
  { t: 'c)', x: 315, y: -1 },
  { t: 'b)', x: 3, y: 606 },
  { t: 'd)', x: 15, y: 902 },
];

function ChartBox({ spec }: { spec: any }) {
  const ref = useRef<HTMLCanvasElement>(null);
  const b: Box = spec.box;
  const width = b.x1 - b.x0 + b.ml + b.mr;
  const height = b.y1 - b.y0 + b.mt + b.mb;
  useEffect(() => {
    const chart = new Chart(ref.current as HTMLCanvasElement, spec.config);
    return () => chart.destroy();
  }, [spec]);
  return (
    <canvas
      ref={ref}
      width={width}
      height={height}
      style={{ position: 'absolute', left: b.x0 - b.ml, top: b.y0 - b.mt, width, height, display: 'block' }}
    />
  );
}

export default function App() {
  return (
    <div style={{ position: 'absolute', left: 0, top: 0, width: 685, height: 1524, overflow: 'hidden', background: '#fff', fontFamily: SANS }}>
      {specs.map((s, i) => <ChartBox key={i} spec={s} />)}
      {panelLetters.map(p => (
        <div key={p.t} style={{ position: 'absolute', left: p.x, top: p.y, fontSize: 24, lineHeight: '28px', color: INK }}>{p.t}</div>
      ))}
    </div>
  );
}
